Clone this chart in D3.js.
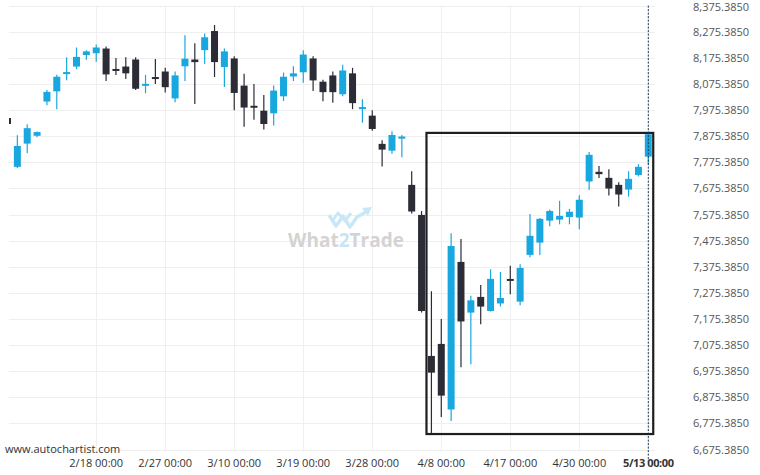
<!DOCTYPE html>
<html><head><meta charset="utf-8">
<script src="https://cdn.jsdelivr.net/npm/d3@7"></script>
<style>html,body{margin:0;padding:0;background:#fff;}svg{display:block;font-family:"Open Sans",sans-serif;}</style>
</head><body>
<svg id="chart" width="760" height="475"></svg>
<script>
const candleOpen  = [7945,7758,7847,7877,8008,8047,8115,8142,8186,8193,8211,8131,8142,8169,8070,8100,8123,8020,8143,8169,8205,8278,8140,8173,8069,7990,7973,7963,8028,8104,8120,8173,8084,8108,8036,8116,7981,7954,7846,7820,7866,7689,7574,7034,7080,6829,7394,7200,7260,7206,7235,7327,7242,7421,7468,7552,7556,7566,7564,7702,7739,7716,7689,7671,7727,7797];
const candleHigh  = [7950,7879,7921,7893,8052,8111,8178,8215,8204,8226,8219,8175,8178,8178,8110,8171,8137,8123,8262,8231,8269,8301,8211,8181,8114,8075,8033,8069,8119,8143,8204,8181,8091,8123,8149,8137,8017,7975,7860,7894,7880,7741,7589,7282,7175,7504,7482,7264,7306,7366,7355,7379,7385,7577,7562,7595,7628,7597,7649,7815,7761,7749,7699,7741,7768,7885];
const candleLow   = [7918,7754,7810,7871,7994,7979,8090,8132,8168,8160,8087,8110,8094,8052,8040,8075,8043,8005,8087,7999,8152,8102,8064,7975,7912,7938,7901,7916,8010,8087,8080,8048,8009,8003,8028,7979,7927,7896,7759,7808,7795,7579,7200,6737,6800,6785,6991,7002,7155,7204,7223,7270,7228,7412,7420,7531,7538,7538,7519,7669,7715,7648,7606,7644,7721,7768];
const candleClose = [7922,7838,7906,7891,8045,8103,8119,8179,8200,8215,8112,8127,8116,8057,8074,8096,8063,8108,8172,8159,8254,8159,8200,8041,7985,7986,7922,8050,8103,8116,8188,8089,8044,8044,8127,8002,7985,7903,7824,7880,7874,7587,7206,6970,6882,7455,7166,7247,7223,7329,7256,7323,7371,7494,7559,7589,7570,7586,7632,7804,7730,7675,7652,7712,7758,7883];
const xTickIndex  = [9,16,23,30,37,44,51,58,65];
const xTickLabels = ["2/18 00:00","2/27 00:00","3/10 00:00","3/19 00:00","3/28 00:00","4/8 00:00","4/17 00:00","4/30 00:00","5/13 00:00"];
const yTicks = [6675.385,6775.385,6875.385,6975.385,7075.385,7175.385,7275.385,7375.385,7475.385,7575.385,7675.385,7775.385,7875.385,7975.385,8075.385,8175.385,8275.385,8375.385];
const boxFrom = 43, boxTo = 65, boxTop = 7888, boxBottom = 6735;

const svg = d3.select("#chart");
const plotLeft = 9, plotRight = 655, plotTop = 5.6, plotBottom = 449.6;
const idx = d3.range(candleOpen.length);
const x = d3.scalePoint().domain(idx).range([7.5, 648.3]);
const step = x.step();
const y = d3.scaleLinear().domain([6675.385, 8375.385]).range([plotBottom, plotTop]);
const BLUE = "#19a7e0", DARK = "#2b2c36";

svg.append("defs").append("clipPath").attr("id","plotclip")
  .append("rect").attr("x",plotLeft).attr("y",0).attr("width",plotRight-plotLeft).attr("height",plotBottom+2);

// grid
const grid = svg.append("g");
grid.selectAll("line.h").data(yTicks).join("line")
  .attr("x1",plotLeft).attr("x2",plotRight)
  .attr("y1",d=>Math.round(y(d))+0.5).attr("y2",d=>Math.round(y(d))+0.5)
  .attr("stroke","#efefef").attr("stroke-width",1);
grid.selectAll("line.v").data(xTickIndex).join("line")
  .attr("x1",d=>Math.round(x(d))+0.5).attr("x2",d=>Math.round(x(d))+0.5)
  .attr("y1",plotTop).attr("y2",plotBottom+2)
  .attr("stroke","#efefef").attr("stroke-width",1);

// watermark
const wm = svg.append("g");
wm.append("path")
  .attr("d","M329,215 L336,226 L343,216 L350,227 L357,217 L366,212")
  .attr("fill","none").attr("stroke","#c8e8f7").attr("stroke-width",3.5).attr("stroke-linejoin","round");
wm.append("path")
  .attr("d","M333,220 L338,213 L345,221 L351,213")
  .attr("fill","none").attr("stroke","#c8e8f7").attr("stroke-width",3).attr("stroke-linejoin","round");
wm.append("path").attr("d","M372,207 L362,208 L368,216 Z").attr("fill","#c8e8f7");
const wt = wm.append("text").attr("x",346).attr("y",247).attr("text-anchor","middle")
  .attr("font-size",19).attr("font-weight",700).attr("fill","#d3d3d3");
wt.append("tspan").text("What");
wt.append("tspan").attr("fill","#c6e6f6").text("2");
wt.append("tspan").text("Trade");

// candles
const cg = svg.append("g").attr("clip-path","url(#plotclip)");
const bw = 7;
cg.selectAll("line.wick").data(idx).join("line")
  .attr("x1",i=>x(i)).attr("x2",i=>x(i))
  .attr("y1",i=>y(candleHigh[i])).attr("y2",i=>y(candleLow[i]))
  .attr("stroke",i=>candleClose[i]>=candleOpen[i]?BLUE:DARK).attr("stroke-width",1.2);
cg.selectAll("rect.body").data(idx).join("rect")
  .attr("x",i=>x(i)-bw/2).attr("width",bw)
  .attr("y",i=>{const t=y(Math.max(candleOpen[i],candleClose[i])), b=y(Math.min(candleOpen[i],candleClose[i])); return (b-t)<2?(t+b)/2-1:t;})
  .attr("height",i=>Math.max(2,Math.abs(y(candleOpen[i])-y(candleClose[i]))))
  .attr("fill",i=>candleClose[i]>=candleOpen[i]?BLUE:DARK);

// pattern box
svg.append("rect")
  .attr("x",x(boxFrom)-step/2).attr("width",x(boxTo)-x(boxFrom)+step)
  .attr("y",y(boxTop)).attr("height",y(boxBottom)-y(boxTop))
  .attr("fill","none").attr("stroke","#1e1e1e").attr("stroke-width",2.2);

// last candle dashed line
svg.append("line")
  .attr("x1",x(idx.length-1)).attr("x2",x(idx.length-1))
  .attr("y1",plotTop).attr("y2",plotBottom+12)
  .attr("stroke","#1f3550").attr("stroke-width",1).attr("stroke-dasharray","2,1.5");

// y labels
svg.append("g").selectAll("text").data(yTicks).join("text")
  .attr("x",693).attr("y",d=>Math.max(11,y(d)+4)).attr("font-size",11).attr("fill","#555")
  .text(d=>d3.format(",.4f")(d));

// x labels
svg.append("g").selectAll("text").data(xTickIndex).join("text")
  .attr("x",d=>x(d)).attr("y",467).attr("text-anchor","middle").attr("font-size",11)
  .attr("fill","#333").attr("font-weight",(d,i)=>i===xTickIndex.length-1?700:400)
  .attr("letter-spacing",(d,i)=>i===xTickIndex.length-1?-0.4:0)
  .text((d,i)=>xTickLabels[i]);

svg.append("text").attr("x",5).attr("y",453).attr("font-size",11).attr("fill","#333").text("www.autochartist.com");
</script>
</body></html>
